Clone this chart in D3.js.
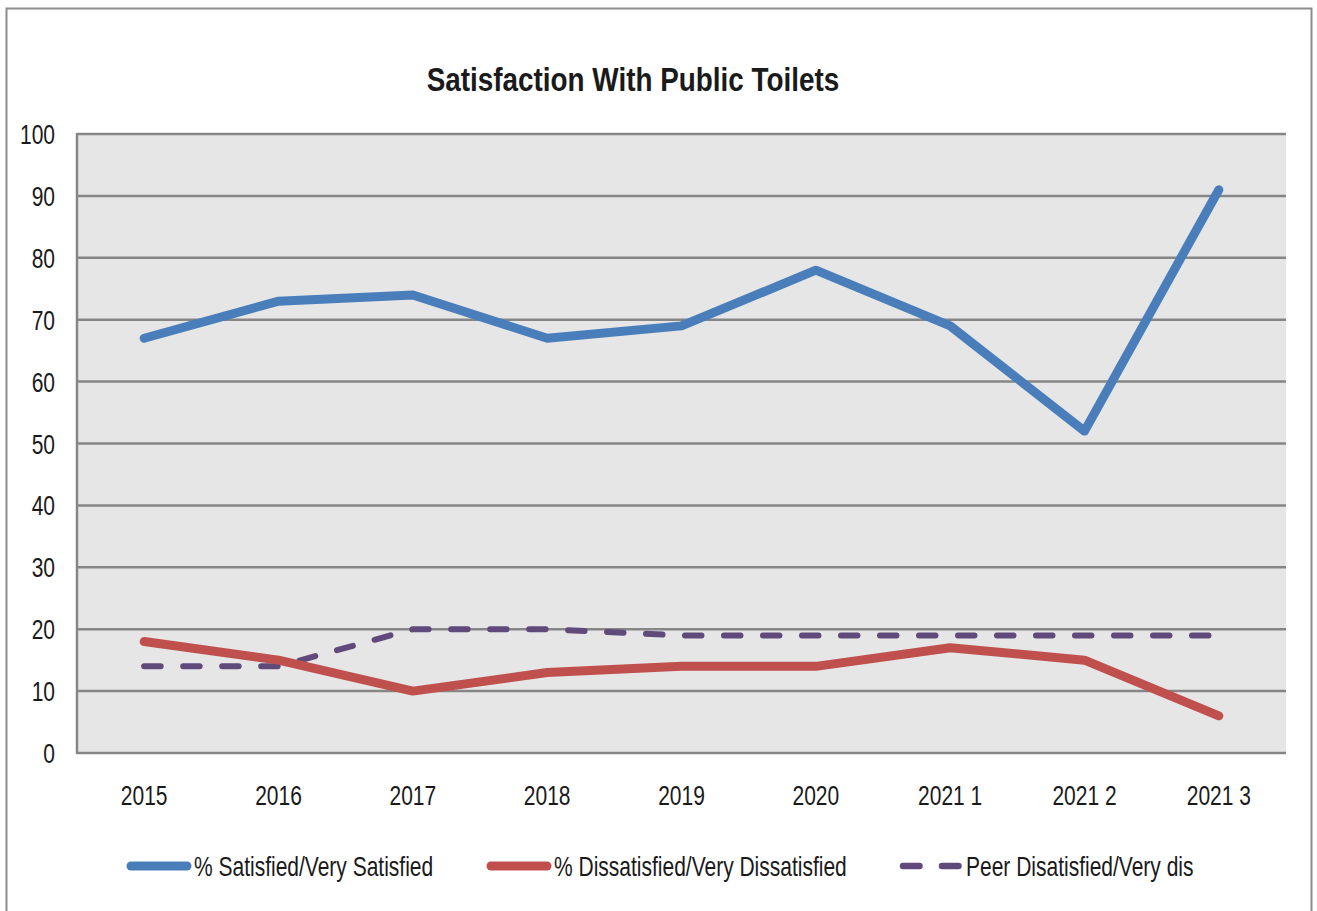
<!DOCTYPE html>
<html><head><meta charset="utf-8">
<script src="https://cdn.jsdelivr.net/npm/d3@7"></script>
<style>
html,body{margin:0;padding:0;background:#fff;}
svg text{font-family:"Liberation Sans Narrow","Arial Narrow","Liberation Sans",sans-serif;fill:#1a1a1a;}
</style></head>
<body>
<svg id="chart" width="1317" height="911"></svg>
<script>
const categories = ["2015","2016","2017","2018","2019","2020","2021 1","2021 2","2021 3"];
const satisfied = [67,73,74,67,69,78,69,52,91];
const dissatisfied = [18,15,10,13,14,14,17,15,6];
const peer = [14,14,20,20,19,19,19,19,19];
const yTicks = [0,10,20,30,40,50,60,70,80,90,100];
const seriesNames = ["% Satisfied/Very Satisfied","% Dissatisfied/Very Dissatisfied","Peer Disatisfied/Very dis"];

const SX = 0.75, FS = 28;
const svg = d3.select("#chart");
svg.append("rect").attr("x",6.5).attr("y",8.5).attr("width",1305).attr("height",920)
  .attr("fill","#fff").attr("stroke","#8c8c8c").attr("stroke-width",2);

const L=77,R=1286,T=134,B=753;
const x = d3.scaleBand().domain(categories).range([L,R]);
const y = d3.scaleLinear().domain([0,100]).range([B,T]);

svg.append("rect").attr("x",L).attr("y",T).attr("width",R-L).attr("height",B-T).attr("fill","#e6e6e6");

svg.append("g").selectAll("line").data(yTicks).join("line")
  .attr("x1",L).attr("x2",R).attr("y1",d=>y(d)).attr("y2",d=>y(d))
  .attr("stroke","#868686").attr("stroke-width",2.5);
svg.append("line").attr("x1",L).attr("x2",L).attr("y1",T-1).attr("y2",B+1)
  .attr("stroke","#868686").attr("stroke-width",2.5);

const yAxis = d3.axisLeft(y).tickValues(yTicks).tickSize(0).tickPadding(22);
const gy = svg.append("g").attr("transform",`translate(${L},0)`).call(yAxis);
gy.select(".domain").remove();
gy.selectAll("text").attr("font-size",FS).attr("font-family",null).attr("dy","0.34em")
  .attr("x",-22/SX).attr("transform",`scale(${SX},1)`);

const xAxis = d3.axisBottom(x).tickSize(0).tickPadding(32);
const gx = svg.append("g").attr("transform",`translate(0,${B})`).call(xAxis);
gx.select(".domain").remove();
gx.selectAll("text").attr("font-size",FS).attr("font-family",null).attr("transform",`scale(${SX},1)`);

svg.append("text").attr("transform","translate(633,91) scale(0.82,1)").attr("text-anchor","middle")
  .attr("font-size",34).attr("font-weight","bold").text("Satisfaction With Public Toilets");

const line = d3.line().x((d,i)=>x(categories[i])+x.bandwidth()/2).y(d=>y(d));
svg.append("path").datum(peer).attr("d",line).attr("fill","none")
  .attr("stroke","#604a7b").attr("stroke-width",6).attr("stroke-linecap","round")
  .attr("stroke-dasharray","16.5 22.5");
svg.append("path").datum(dissatisfied).attr("d",line).attr("fill","none")
  .attr("stroke","#c0504d").attr("stroke-width",9).attr("stroke-linecap","round").attr("stroke-linejoin","round");
svg.append("path").datum(satisfied).attr("d",line).attr("fill","none")
  .attr("stroke","#4a7ebb").attr("stroke-width",9).attr("stroke-linecap","round").attr("stroke-linejoin","round");

const leg = [
  {name:seriesNames[0], color:"#4a7ebb", x:131, dash:null, w:9},
  {name:seriesNames[1], color:"#c0504d", x:491, dash:null, w:9},
  {name:seriesNames[2], color:"#604a7b", x:903, dash:"16.5 22.5", w:6.5}
];
const lg = svg.append("g");
leg.forEach(d=>{
  lg.append("line").attr("x1",d.x).attr("x2",d.x+56).attr("y1",866).attr("y2",866)
    .attr("stroke",d.color).attr("stroke-width",d.w).attr("stroke-linecap","round")
    .attr("stroke-dasharray",d.dash);
  lg.append("text").attr("transform",`translate(${d.x+63},876) scale(${SX},1)`)
    .attr("font-size",FS).text(d.name);
});
</script>
</body></html>
